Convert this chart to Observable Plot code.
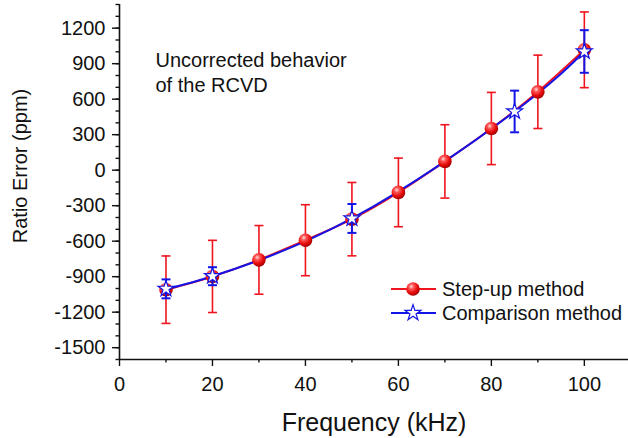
<!DOCTYPE html>
<html>
<head>
<meta charset="utf-8">
<script src="https://cdn.jsdelivr.net/npm/d3@7"></script>
<script src="https://cdn.jsdelivr.net/npm/@observablehq/plot@0.6"></script>
<style>
  html, body { margin: 0; padding: 0; background: #fff; }
  #wrap { position: relative; width: 628px; height: 438px; font-family: "Liberation Sans", Arial, sans-serif; }
  #legend { position: absolute; left: 390px; top: 277px; font-size: 20px; color: #111; }
  #legend .row { display: flex; align-items: center; height: 24px; }
  #legend svg { display: block; margin-right: 5px; }
</style>
</head>
<body>
<svg width="0" height="0" style="position:absolute">
  <defs>
    <radialGradient id="ball" cx="38%" cy="32%" r="70%">
      <stop offset="0%" stop-color="#ffe0e0"/>
      <stop offset="25%" stop-color="#ff5a5a"/>
      <stop offset="65%" stop-color="#e80a0a"/>
      <stop offset="100%" stop-color="#a00000"/>
    </radialGradient>
  </defs>
</svg>
<div id="wrap"><div id="legend"></div></div>
<script>
// ---- data ----
const stepFreq = [10, 20, 30, 40, 50, 60, 70, 80, 90, 100];
const stepVal  = [-1010, -898, -758, -592, -414, -188, 74, 352, 662, 1017];
const stepErr  = [285, 305, 290, 300, 310, 290, 310, 305, 310, 320];

const compFreq = [10, 20, 50, 85, 100];
const compVal  = [-1003, -896, -408, 496, 1003];
const compErr  = [80, 76, 122, 176, 180];

const yTicks = d3.range(-1500, 1201, 300);
const yMinor = d3.range(-1600, 1401, 100);
const xTicks = [0, 20, 40, 60, 80, 100];
const xMinor = [10, 30, 50, 70, 90];

const seriesNames = ["Step-up method", "Comparison method"];
const annotation = "Uncorrected behavior\nof the RCVD";
const xLabel = "Frequency (kHz)";
const yLabel = "Ratio Error (ppm)";

const RED = "#f0141e";
const BLUE = "#1414e6";
const STAR_R = 5;

const step = stepFreq.map((f, i) => ({f, v: stepVal[i], lo: stepVal[i] - stepErr[i], hi: stepVal[i] + stepErr[i]}));
const comp = compFreq.map((f, i) => ({f, v: compVal[i], lo: compVal[i] - compErr[i], hi: compVal[i] + compErr[i]}));
const stepCaps = step.flatMap(d => [{f: d.f, v: d.lo}, {f: d.f, v: d.hi}]);
const compCaps = comp.flatMap(d => [{f: d.f, v: d.lo}, {f: d.f, v: d.hi}]);

const capSymbol = {
  draw(ctx, size) {
    const r = Math.sqrt(size / Math.PI);
    ctx.moveTo(-r, 0);
    ctx.lineTo(r, 0);
  }
};
const fmt = d => String(d);

const chart = Plot.plot({
  width: 628,
  height: 438,
  marginLeft: 119,
  marginRight: 0,
  marginTop: 4,
  marginBottom: 79,
  style: {fontFamily: "'Liberation Sans', Arial, sans-serif", fontSize: "20px", color: "#111", background: "transparent"},
  x: {domain: [0, 109.5]},
  y: {domain: [-1600, 1400]},
  marks: [
    // minor ticks
    Plot.axisY(yMinor, {tickSize: 3.5, tickFormat: () => "", strokeWidth: 1.4, label: null}),
    Plot.axisX(xMinor, {tickSize: 3.5, tickFormat: () => "", strokeWidth: 1.4, label: null}),
    // major ticks
    Plot.axisY(yTicks, {tickSize: 7, tickPadding: 7, strokeWidth: 1.4, label: null, fontSize: 20, tickFormat: fmt}),
    Plot.axisX(xTicks, {tickSize: 7, tickPadding: 10, strokeWidth: 1.4, label: null, fontSize: 20, tickFormat: fmt}),
    // axis lines
    Plot.ruleX([0], {stroke: "#111", strokeWidth: 1.6}),
    Plot.ruleY([-1600], {stroke: "#111", strokeWidth: 1.6}),
    // curves
    Plot.line(step, {x: "f", y: "v", stroke: RED, strokeWidth: 2, curve: "natural"}),
    Plot.line(comp, {x: "f", y: "v", stroke: BLUE, strokeWidth: 2, curve: "natural"}),
    // red error bars
    Plot.ruleX(step, {x: "f", y1: "lo", y2: "hi", stroke: RED, strokeWidth: 1.6}),
    Plot.dot(stepCaps, {x: "f", y: "v", symbol: capSymbol, r: 4.5, stroke: RED, strokeWidth: 1.6, fill: "none"}),
    Plot.dot(step, {x: "f", y: "v", r: 6.8, fill: "url(#ball)", stroke: "none"}),
    // blue error bars
    Plot.ruleX(comp, {x: "f", y1: "lo", y2: "hi", stroke: BLUE, strokeWidth: 2}),
    Plot.dot(compCaps, {x: "f", y: "v", symbol: capSymbol, r: 4.5, stroke: BLUE, strokeWidth: 2, fill: "none"}),
    Plot.dot(comp, {x: "f", y: "v", symbol: "star", r: STAR_R, fill: "white", stroke: BLUE, strokeWidth: 1.2}),
    // texts
    Plot.text([annotation], {frameAnchor: "top-left", dx: 36, dy: 45, lineAnchor: "top", textAnchor: "start", lineHeight: 1.25, fontSize: 20, fill: "#111"}),
    Plot.text([xLabel], {frameAnchor: "bottom", dy: 63, lineAnchor: "middle", textAnchor: "middle", fontSize: 25, fill: "#111"}),
    Plot.text([yLabel], {frameAnchor: "left", dx: -99, dy: -16, rotate: -90, lineAnchor: "middle", textAnchor: "middle", fontSize: 20, fill: "#111"})
  ]
});
document.getElementById("wrap").prepend(chart);

// legend
const legend = document.getElementById("legend");
const legendSymbols = [
  `<line x1="1" y1="12" x2="46" y2="12" stroke="${RED}" stroke-width="2"/><circle cx="23" cy="12" r="6.8" fill="url(#ball)"/>`,
  `<line x1="1" y1="12" x2="46" y2="12" stroke="${BLUE}" stroke-width="2"/><path transform="translate(23,12)" d="${d3.symbol(d3.symbolStar, Math.PI * STAR_R * STAR_R)()}" fill="white" stroke="${BLUE}" stroke-width="1.2"/>`
];
seriesNames.forEach((name, i) => {
  const row = document.createElement("div");
  row.className = "row";
  row.innerHTML = `<svg width="47" height="24">${legendSymbols[i]}</svg><span>${name}</span>`;
  legend.appendChild(row);
});
</script>
</body>
</html>
